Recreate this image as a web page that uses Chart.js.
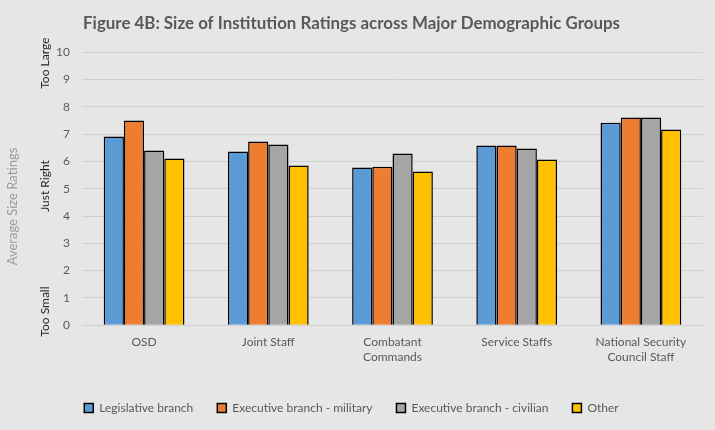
<!DOCTYPE html>
<html lang="en">
<head>
<meta charset="UTF-8">
<title>Figure 4B</title>
<script src="https://cdn.jsdelivr.net/npm/chart.js"></script>
<style>
  html, body { margin: 0; padding: 0; background: #e6e6e6; }
  .wrap { width: 715px; height: 430px; }
</style>
</head>
<body>
<div class="wrap"><canvas id="grafico" width="715" height="430"></canvas></div>
<script>
// categorias e valores
var categorias = ['OSD', 'Joint Staff', ['Combatant', 'Commands'], 'Service Staffs', ['National Security', 'Council Staff']];
var legislativo = [6.91, 6.36, 5.78, 6.58, 7.42];
var execMilitar = [7.50, 6.73, 5.81, 6.58, 7.61];
var execCivil = [6.40, 6.62, 6.29, 6.47, 7.61];
var outros = [6.11, 5.85, 5.63, 6.07, 7.17];
var ticksY = [0, 1, 2, 3, 4, 5, 6, 7, 8, 9, 10];

// rotulos laterais (texto, valor no eixo y onde fica o centro)
var rotulosLaterais = [
  ['Too Large', 9.6],
  ['Just Right', 5.1],
  ['Too Small', 0.5]
];

var fonte = 'Lato, "Open Sans", sans-serif';

var fundo = {
  id: 'fundo',
  beforeDraw: function (chart) {
    var ctx = chart.ctx;
    ctx.save();
    ctx.fillStyle = '#e6e6e6';
    ctx.fillRect(0, 0, chart.width, chart.height);
    ctx.restore();
  }
};

var textosLaterais = {
  id: 'textosLaterais',
  afterDraw: function (chart) {
    var ctx = chart.ctx;
    var y = chart.scales.y;
    ctx.save();
    ctx.textAlign = 'center';
    ctx.textBaseline = 'middle';
    ctx.font = '12px ' + fonte;
    ctx.fillStyle = '#262626';
    for (var i = 0; i < rotulosLaterais.length; i++) {
      ctx.save();
      ctx.translate(45, y.getPixelForValue(rotulosLaterais[i][1]));
      ctx.rotate(-Math.PI / 2);
      ctx.fillText(rotulosLaterais[i][0], 0, 0);
      ctx.restore();
    }
    ctx.font = '13px ' + fonte;
    ctx.fillStyle = '#9a9a9a';
    ctx.translate(13, y.getPixelForValue(4.35));
    ctx.rotate(-Math.PI / 2);
    ctx.fillText('Average Size Ratings', 0, 0);
    ctx.restore();
  }
};

function serie(nome, dados, cor) {
  return {
    label: nome,
    data: dados,
    backgroundColor: cor,
    borderColor: '#000000',
    borderWidth: 1.5,
    barPercentage: 1,
    categoryPercentage: 0.65
  };
}

var ctx = document.getElementById('grafico').getContext('2d');
var myChart = new Chart(ctx, {
  type: 'bar',
  data: {
    labels: categorias,
    datasets: [
      serie('Legislative branch', legislativo, '#5b9bd5'),
      serie('Executive branch - military', execMilitar, '#ed7d31'),
      serie('Executive branch - civilian', execCivil, '#a5a5a5'),
      serie('Other', outros, '#ffc000')
    ]
  },
  options: {
    responsive: false,
    animation: false,
    layout: { padding: { left: 0, right: 12, top: 8, bottom: 6 } },
    plugins: {
      title: {
        display: true,
        text: 'Figure 4B: Size of Institution Ratings across Major Demographic Groups',
        color: '#595959',
        font: { family: fonte, size: 16.9, weight: 'bold' },
        padding: { top: 5, bottom: 19 }
      },
      legend: {
        position: 'bottom',
        labels: {
          color: '#595959',
          font: { family: fonte, size: 12 },
          boxWidth: 9,
          boxHeight: 9,
          padding: 24,
          useBorderRadius: false
        }
      },
      tooltip: { enabled: false }
    },
    scales: {
      x: {
        afterFit: function (scale) { scale.height = scale.height + 12; },
        grid: { display: false },
        border: { color: '#d0d0d0' },
        ticks: { color: '#595959', font: { family: fonte, size: 12 }, padding: 2, maxRotation: 0 }
      },
      y: {
        min: 0,
        max: 10,
        afterFit: function (scale) { scale.width = 82; },
        afterBuildTicks: function (scale) {
          scale.ticks = ticksY.map(function (v) { return { value: v }; });
        },
        grid: { color: '#d0d0d0', drawTicks: false },
        border: { display: false },
        ticks: { color: '#595959', font: { family: fonte, size: 12 }, padding: 12 }
      }
    }
  },
  plugins: [fundo, textosLaterais]
});
</script>
</body>
</html>
